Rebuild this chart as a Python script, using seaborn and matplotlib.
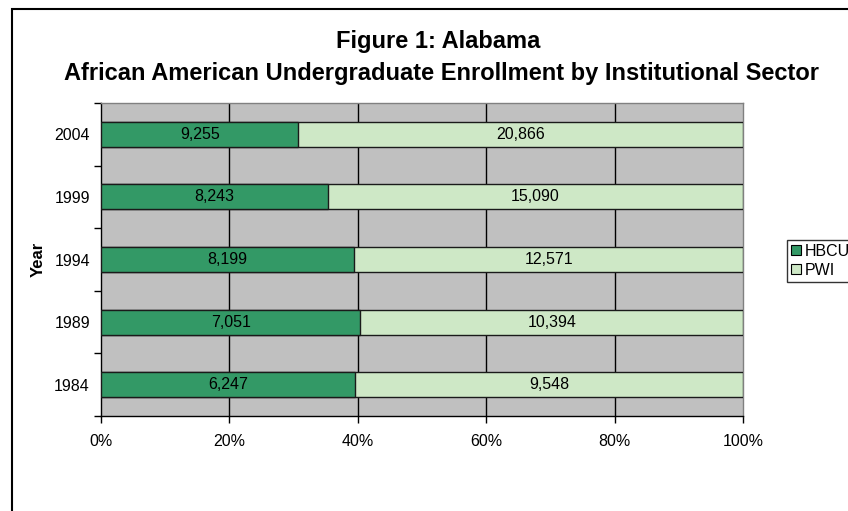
import matplotlib
matplotlib.use("Agg")
import matplotlib.pyplot as plt
from matplotlib.patches import Patch, Rectangle
import numpy as np
import pandas as pd
import seaborn as sns

years = ["2004", "1999", "1994", "1989", "1984"]
hbcu = [9255, 8243, 8199, 7051, 6247]
pwi = [20866, 15090, 12571, 10394, 9548]
series_names = ["HBCU", "PWI"]
x_ticks = [0, 20, 40, 60, 80, 100]

HBCU_COLOR = "#339966"
PWI_COLOR = "#CEE8C6"
PLOT_BG = "#C0C0C0"

sns.set_theme(style="white")
plt.rcParams["font.family"] = ["Liberation Sans", "DejaVu Sans"]
plt.rcParams["text.color"] = "black"
plt.rcParams["axes.labelcolor"] = "black"
plt.rcParams["xtick.color"] = "black"
plt.rcParams["ytick.color"] = "black"

df = pd.DataFrame({"Year": years, "HBCU": hbcu, "PWI": pwi})
df["Total"] = df["HBCU"] + df["PWI"]
df["HBCU_pct"] = df["HBCU"] / df["Total"] * 100
df["Full_pct"] = 100.0

fig = plt.figure(figsize=(8.48, 5.11), dpi=100)
ax = fig.add_axes([101 / 848, 1 - 416 / 511, 642 / 848, 313 / 511])
ax.set_facecolor(PLOT_BG)

# full-width bar in the PWI colour, HBCU share drawn over it
sns.barplot(data=df, x="Full_pct", y="Year", order=years, orient="h",
            color=PWI_COLOR, width=0.4, edgecolor="#1a1a1a", linewidth=1.0,
            saturation=1, ax=ax, zorder=3)
sns.barplot(data=df, x="HBCU_pct", y="Year", order=years, orient="h",
            color=HBCU_COLOR, width=0.4, edgecolor="#1a1a1a", linewidth=1.0,
            saturation=1, ax=ax, zorder=4)

# segment value labels
for i, row in df.iterrows():
    pos = years.index(row["Year"])
    ax.text(row["HBCU_pct"] / 2, pos, f"{row['HBCU']:,}", ha="center",
            va="center", fontsize=11.5, color="black", zorder=5)
    ax.text((row["HBCU_pct"] + 100) / 2, pos, f"{row['PWI']:,}", ha="center",
            va="center", fontsize=11.5, color="black", zorder=5)

ax.set_xlim(0, 100)
ax.set_ylim(4.5, -0.5)
ax.set_xticks(x_ticks)
ax.set_xticklabels([f"{t}%" for t in x_ticks], fontsize=11.5)
ax.set_yticks(range(len(years)))
ax.set_yticklabels(years, fontsize=11.5)
ax.set_yticks(np.arange(-0.5, len(years), 1.0), minor=True)
ax.tick_params(axis="y", which="major", length=0, pad=8)
ax.tick_params(axis="y", which="minor", length=5, width=1, direction="out",
               color="black", left=True)
ax.tick_params(axis="x", which="major", length=5, width=1, direction="out",
               color="black", bottom=True, pad=8)
for t in x_ticks[1:-1]:
    ax.axvline(t, color="black", linewidth=1.0, zorder=1)

ax.set_xlabel("")
ax.set_ylabel("Year", fontsize=12, fontweight="bold", labelpad=6)
for side in ("left", "bottom"):
    ax.spines[side].set_color("black")
    ax.spines[side].set_linewidth(1.0)
for side in ("top", "right"):
    ax.spines[side].set_visible(True)
    ax.spines[side].set_color("#808080")
    ax.spines[side].set_linewidth(1.0)

fig.text(438 / 848, 1 - 48 / 511, "Figure 1: Alabama", ha="center",
         va="baseline", fontsize=17, fontweight="bold")
fig.text(442 / 848, 1 - 80 / 511,
         "African American Undergraduate Enrollment by Institutional Sector",
         ha="center", va="baseline", fontsize=17, fontweight="bold")

handles = [Patch(facecolor=HBCU_COLOR, edgecolor="black", linewidth=0.8),
           Patch(facecolor=PWI_COLOR, edgecolor="black", linewidth=0.8)]
leg = fig.legend(handles, series_names, loc="upper left",
                 bbox_to_anchor=(787 / 848, 1 - 240 / 511), fontsize=11.5,
                 frameon=True, fancybox=False, handlelength=0.6,
                 handleheight=0.6, handletextpad=0.25, borderpad=0.25,
                 labelspacing=0.25, borderaxespad=0)
leg.get_frame().set_edgecolor("black")
leg.get_frame().set_linewidth(1.0)

# outer chart frame, extending past the right and bottom edges
fig.patches.append(Rectangle((11.5 / 848, -0.1), 1.2, 1.1 - 9.5 / 511,
                             transform=fig.transFigure, fill=False,
                             edgecolor="black", linewidth=1.5))

fig.savefig("out.png", dpi=100)
